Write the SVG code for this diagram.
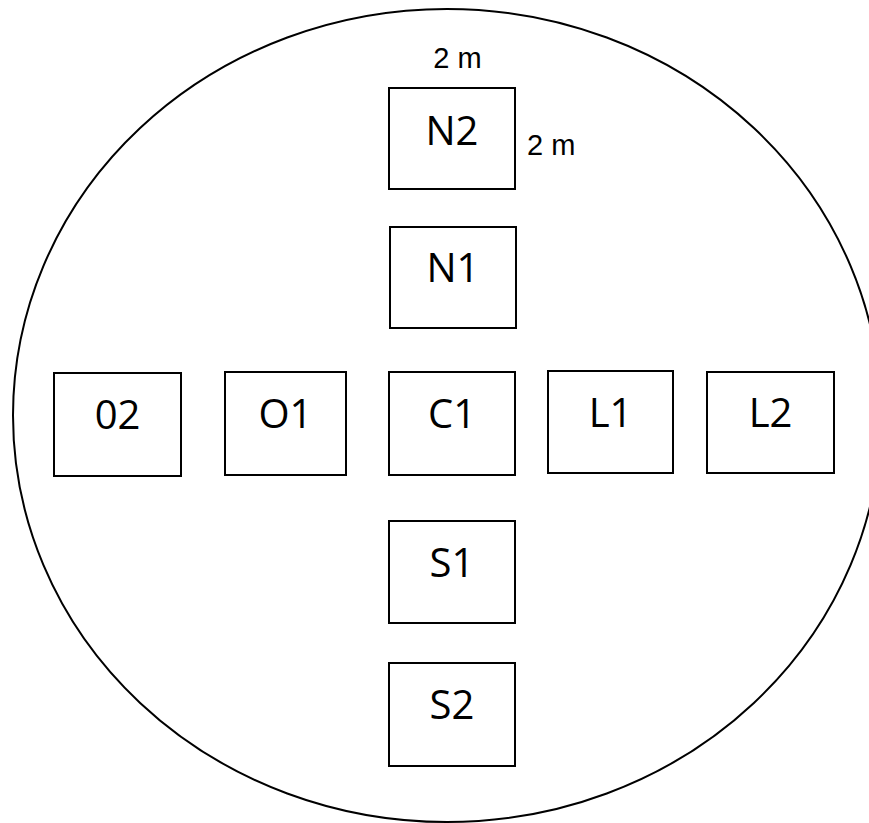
<svg xmlns="http://www.w3.org/2000/svg" width="869" height="823" viewBox="0 0 869 823">
<style>
.b{fill:#fff;stroke:#000;stroke-width:2}
.t{font-family:"Open Sans","Noto Sans",sans-serif;font-size:40px;text-anchor:middle;fill:#000}
.d{font-family:"Liberation Sans",Arial,sans-serif;font-size:29px;fill:#000}
</style>
<rect width="869" height="823" fill="#fff"/>
<ellipse id="field" cx="447" cy="415.5" rx="434" ry="406.5" fill="none" stroke="#000" stroke-width="2"/>
<g id="connectors"></g>
<g id="N2"><rect class="b" x="389" y="88" width="126" height="101"/><text class="t" x="452" y="145">N2</text></g>
<g id="N1"><rect class="b" x="390" y="227" width="126" height="101"/><text class="t" x="453" y="282">N1</text></g>
<g id="O2"><rect class="b" x="54" y="373" width="127" height="103"/><text class="t" x="117.5" y="429">02</text></g>
<g id="O1"><rect class="b" x="225" y="372" width="121" height="103"/><text class="t" x="285.5" y="428">O1</text></g>
<g id="C1"><rect class="b" x="389" y="372" width="126" height="103"/><text class="t" x="452" y="428">C1</text></g>
<g id="L1"><rect class="b" x="548" y="371" width="125" height="102"/><text class="t" x="610.5" y="427">L1</text></g>
<g id="L2"><rect class="b" x="707" y="372" width="127" height="101"/><text class="t" x="770.5" y="427">L2</text></g>
<g id="S1"><rect class="b" x="389" y="521" width="126" height="102"/><text class="t" x="452" y="577">S1</text></g>
<g id="S2"><rect class="b" x="389" y="663" width="126" height="103"/><text class="t" x="452" y="719">S2</text></g>
<g id="dims">
<text class="d" x="457.5" y="68" text-anchor="middle">2 m</text>
<text class="d" x="527" y="155">2 m</text>
</g>
</svg>
